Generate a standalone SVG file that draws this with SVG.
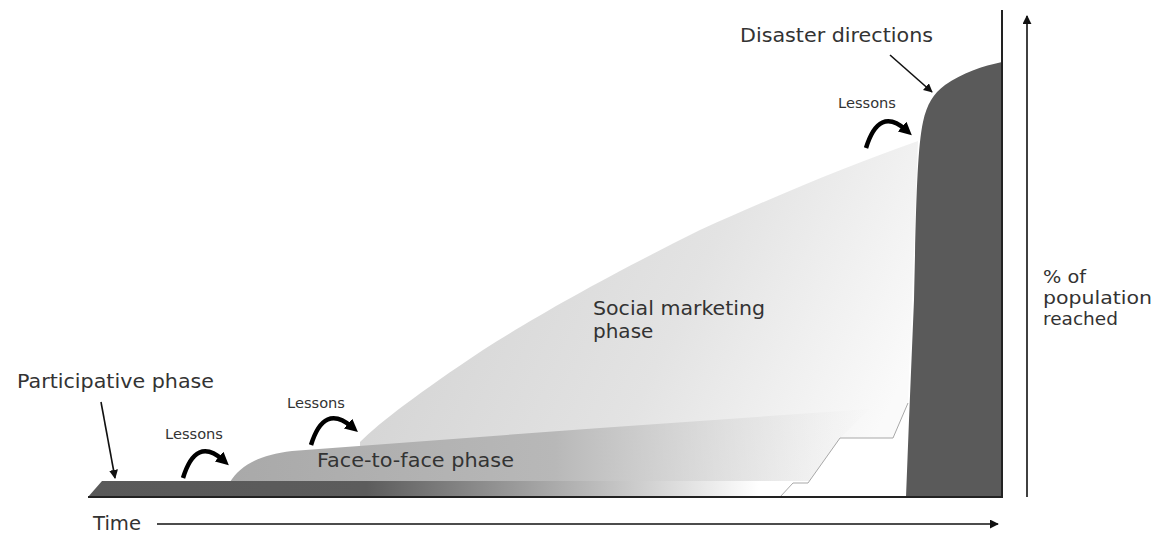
<svg xmlns="http://www.w3.org/2000/svg" width="1163" height="536" viewBox="0 0 1163 536">
  <style>
    .lbl { font-family: "DejaVu Sans", Verdana, sans-serif; fill: #333; }
    .big { font-size: 20px; }
    .axis { font-size: 18px; }
    .small { font-size: 14px; }
    .thin { stroke: #111; stroke-width: 1.6; fill: none; }
    .curl { stroke: #000; stroke-width: 4.5; fill: none; stroke-linecap: butt; }
  </style>
  <defs>
    <marker id="tip" viewBox="0 0 10 10" refX="9" refY="5" markerWidth="9" markerHeight="9" markerUnits="userSpaceOnUse" orient="auto">
      <path d="M0,0 L10,5 L0,10 Z" fill="#111"/>
    </marker>
    <marker id="curlTip" viewBox="0 0 10 10" refX="4" refY="5" markerWidth="13" markerHeight="13" markerUnits="userSpaceOnUse" orient="auto">
      <path d="M0,0 L10,5 L0,10 Z" fill="#000"/>
    </marker>
    <linearGradient id="socialFill" x1="400" y1="250" x2="860" y2="470" gradientUnits="userSpaceOnUse">
      <stop offset="0" stop-color="#d3d3d3"/>
      <stop offset="0.55" stop-color="#e3e3e3"/>
      <stop offset="1" stop-color="#fafafa"/>
    </linearGradient>
    <linearGradient id="faceFill" x1="230" y1="0" x2="880" y2="0" gradientUnits="userSpaceOnUse">
      <stop offset="0" stop-color="#a9a9a9"/>
      <stop offset="0.5" stop-color="#b8b8b8"/>
      <stop offset="1" stop-color="#e6e6e6" stop-opacity="0"/>
    </linearGradient>
    <linearGradient id="barFill" x1="88" y1="0" x2="906" y2="0" gradientUnits="userSpaceOnUse">
      <stop offset="0" stop-color="#595959"/>
      <stop offset="0.34" stop-color="#5c5c5c"/>
      <stop offset="0.82" stop-color="#ffffff"/>
      <stop offset="1" stop-color="#ffffff"/>
    </linearGradient>
  </defs>

  <!-- Social marketing phase area -->
  <g id="social-marketing">
    <path d="M360,442 C380,422 420,392 483,350 C540,314 600,280 700,230 C780,194 850,165 918,141 L912,300 L908,403 L893,438 L840,438 L808,483 L793,483 L780,497 L360,497 Z" fill="url(#socialFill)"/>
    <text class="lbl big" x="593" y="315" textLength="172" lengthAdjust="spacingAndGlyphs">Social marketing</text>
    <text class="lbl big" x="593" y="338">phase</text>
  </g>

  <!-- Face-to-face phase band -->
  <g id="face-to-face">
    <path d="M230,482 C240,466 258,455 292,451 L600,428 L870,409 L840,438 L808,483 Z" fill="url(#faceFill)"/>
    <text class="lbl big" x="317" y="467" textLength="197" lengthAdjust="spacingAndGlyphs">Face-to-face phase</text>
  </g>

  <!-- Participative phase bar -->
  <g id="participative">
    <path d="M88,497 L102,481 L906,481 L906,497 Z" fill="url(#barFill)"/>
    <text class="lbl big" x="17" y="388" textLength="197" lengthAdjust="spacingAndGlyphs">Participative phase</text>
  </g>

  <!-- Disaster directions block -->
  <g id="disaster-directions">
    <path d="M906,497 L909,420 L914,300 C916,210 917,150 923,122 C927,104 933,94 945,85 C962,73 983,66 1002,62 L1002,497 Z" fill="#5a5a5a"/>
    <text class="lbl big" x="740" y="42" textLength="193" lengthAdjust="spacingAndGlyphs">Disaster directions</text>
  </g>

  <!-- Axis labels -->
  <g id="axis-labels">
    <text class="lbl big" x="93" y="530" textLength="48" lengthAdjust="spacingAndGlyphs">Time</text>
    <text class="lbl axis" x="1043" y="283" textLength="43" lengthAdjust="spacingAndGlyphs">% of</text>
    <text class="lbl axis" x="1043" y="304" textLength="109" lengthAdjust="spacingAndGlyphs">population</text>
    <text class="lbl axis" x="1043" y="325" textLength="75" lengthAdjust="spacingAndGlyphs">reached</text>
  </g>

  <!-- Lessons labels -->
  <g id="lessons">
    <text class="lbl small" x="165" y="439" textLength="58" lengthAdjust="spacingAndGlyphs">Lessons</text>
    <text class="lbl small" x="287" y="408" textLength="58" lengthAdjust="spacingAndGlyphs">Lessons</text>
    <text class="lbl small" x="838" y="108" textLength="58" lengthAdjust="spacingAndGlyphs">Lessons</text>
  </g>

  <!-- Connectors and axes -->
  <g id="connectors">
    <path d="M780,497 L793,483 L808,483 L840,438 L893,438 L908,403" stroke="#a8a8a8" stroke-width="1" fill="none"/>
    <line x1="88" y1="497" x2="1003" y2="497" stroke="#222" stroke-width="2"/>
    <line x1="1002" y1="10" x2="1002" y2="498" stroke="#222" stroke-width="2"/>
    <line x1="1027" y1="497" x2="1027" y2="16" class="thin" marker-end="url(#tip)"/>
    <line x1="157" y1="524" x2="998" y2="524" class="thin" marker-end="url(#tip)"/>
    <line x1="101" y1="402" x2="115" y2="478" class="thin" marker-end="url(#tip)"/>
    <line x1="890" y1="55" x2="932" y2="92" class="thin" marker-end="url(#tip)"/>
    <path class="curl" d="M183,478 Q196,436 223,460" marker-end="url(#curlTip)"/>
    <path class="curl" d="M311,445 Q324,403 352,427" marker-end="url(#curlTip)"/>
    <path class="curl" d="M866,148 Q879,106 906,130" marker-end="url(#curlTip)"/>
  </g>
</svg>
